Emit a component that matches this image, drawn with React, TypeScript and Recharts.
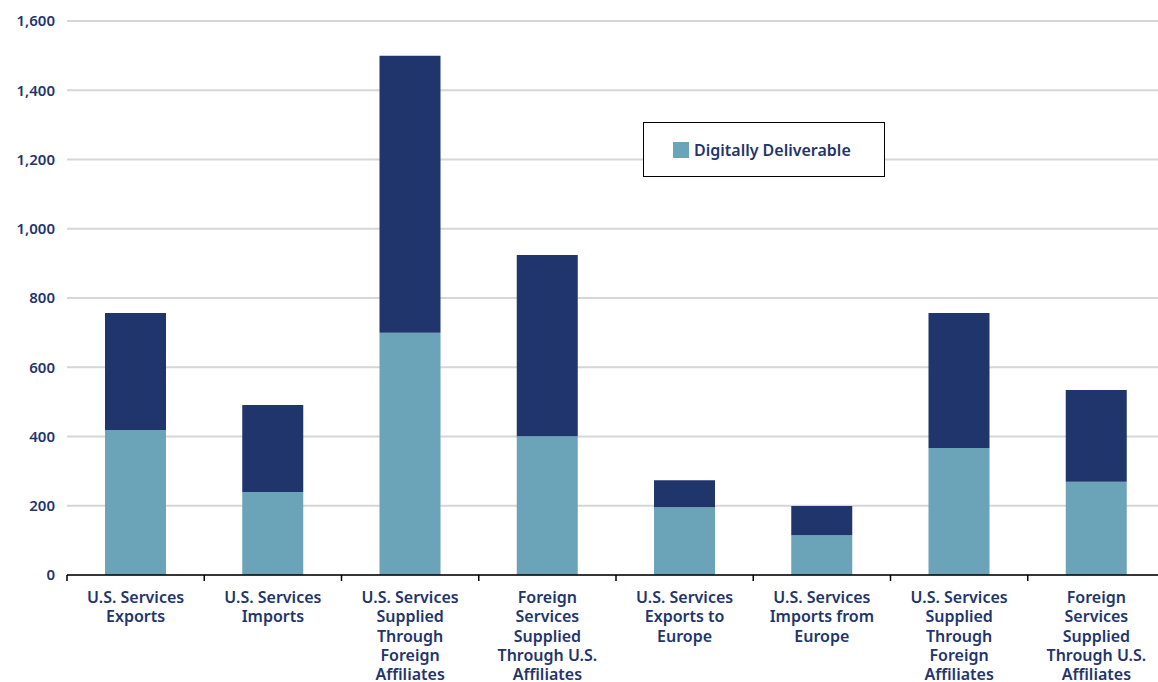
import { Bar, BarChart, CartesianGrid, Legend, XAxis, YAxis } from "recharts";

const categories = [
  "U.S. Services\nExports",
  "U.S. Services\nImports",
  "U.S. Services\nSupplied\nThrough\nForeign\nAffiliates",
  "Foreign\nServices\nSupplied\nThrough U.S.\nAffiliates",
  "U.S. Services\nExports to\nEurope",
  "U.S. Services\nImports from\nEurope",
  "U.S. Services\nSupplied\nThrough\nForeign\nAffiliates",
  "Foreign\nServices\nSupplied\nThrough U.S.\nAffiliates",
];

// billions of dollars
const digital = [419, 240, 700, 401, 196, 115, 367, 269];
const other = [338, 251, 800, 523, 78, 84, 390, 265];

const yTicks = [0, 200, 400, 600, 800, 1000, 1200, 1400, 1600];

const NAVY = "#1f356c";
const TEAL = "#6ba3b8";
const FONT = "'Noto Sans', sans-serif";

const data = categories.map((name, i) => ({
  name,
  digital: digital[i],
  other: other[i],
}));

const CHART_W = 1170;
const CHART_H = 682;
const MARGIN = { top: 21, right: 5, bottom: 0, left: 0 };
const Y_W = 67;
const X_H = 107;
const BAND = (CHART_W - MARGIN.left - MARGIN.right - Y_W) / categories.length;

function CategoryTick(props: any) {
  const { x, y, payload, index } = props;
  const lines = String(payload.value).split("\n");
  const axisY = y - 8;
  return (
    <g>
      <line x1={x - BAND / 2} x2={x - BAND / 2} y1={axisY} y2={axisY + 6} stroke="#000" strokeWidth={1.5} />
      {index === categories.length - 1 && (
        <line x1={x + BAND / 2} x2={x + BAND / 2} y1={axisY} y2={axisY + 6} stroke="#000" strokeWidth={1.5} />
      )}
      <text
        x={x}
        y={y}
        textAnchor="middle"
        fill={NAVY}
        fontSize={16}
        fontWeight={600}
        fontFamily={FONT}
      >
        {lines.map((l, i) => (
          <tspan key={i} x={x} dy={i === 0 ? 20 : 19.3}>
            {l}
          </tspan>
        ))}
      </text>
    </g>
  );
}

function LegendBox() {
  return (
    <div
      style={{
        width: 240,
        height: 53,
        border: "1px solid #000",
        background: "#fff",
        display: "flex",
        alignItems: "center",
        fontFamily: FONT,
        fontSize: 16,
        fontWeight: 600,
        color: NAVY,
        boxSizing: "content-box",
      }}
    >
      <span style={{ width: 16, height: 16, background: TEAL, marginLeft: 29, marginRight: 5 }} />
      Digitally Deliverable
    </div>
  );
}

export default function App() {
  return (
    <div style={{ position: "absolute", left: 0, top: 0, width: 1158, height: 682, overflow: "hidden", background: "#fff" }}>
      <BarChart width={CHART_W} height={CHART_H} data={data} margin={MARGIN}>
        <CartesianGrid vertical={false} stroke="#d6d6d6" strokeWidth={2} />
        <XAxis
          dataKey="name"
          height={X_H}
          interval={0}
          tickLine={false}
          tickSize={6}
          tickMargin={2}
          axisLine={{ stroke: "#000", strokeWidth: 1.5 }}
          tick={<CategoryTick />}
        />
        <YAxis
          width={Y_W}
          domain={[0, 1600]}
          ticks={yTicks}
          axisLine={false}
          tickLine={false}
          tickSize={0}
          tickMargin={12}
          tickFormatter={(v: number) => v.toLocaleString("en-US")}
          tick={{ fill: NAVY, fontSize: 15, fontWeight: 600, fontFamily: FONT }}
        />
        <Legend
          layout="horizontal"
          verticalAlign="middle"
          align="center"
          content={<LegendBox />}
          wrapperStyle={{ position: "absolute", left: 643, top: 122, width: "auto" }}
        />
        <Bar dataKey="digital" stackId="a" fill={TEAL} barSize={61} isAnimationActive={false} />
        <Bar dataKey="other" stackId="a" fill={NAVY} barSize={61} isAnimationActive={false} legendType="none" />
      </BarChart>
    </div>
  );
}
